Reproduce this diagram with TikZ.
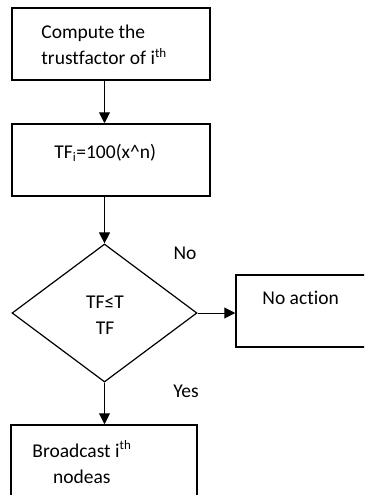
\documentclass[tikz,border=0pt]{standalone}
\usepackage{fontspec}
\setmainfont[Ligatures={NoCommon}]{Carlito}
\usetikzlibrary{shapes.geometric,arrows.meta}
\newcommand{\smallsup}[1]{\textsuperscript{\fontsize{13}{13}\selectfont #1}}

\begin{document}
\begin{tikzpicture}[x=1pt,y=-1pt,
	box/.style={draw, line width=1.5pt, rectangle, inner sep=0},
	txt/.style={inner sep=0, anchor=north west},
	arr/.style={line width=1pt, -{Triangle[width=11pt,length=11pt]}},
	every node/.style={font=\fontsize{19.5}{26}\selectfont}]
		\clip(0,0)rectangle(364,495);
		% boxes
		\node[box, minimum width=198pt, minimum height=72pt](comp) at (111,44) {};
		\node[box, minimum width=198pt, minimum height=72pt](tf) at (111,160) {};
		\node[draw, line width=1.2pt, diamond, inner sep=0, minimum width=185pt, minimum height=138pt](dec) at (104.5,313) {};
		\node[box, minimum width=150pt, minimum height=72pt](noact) at (311,311) {};
		\node[box, minimum width=186pt, minimum height=95pt](bcast) at (104,472.5) {};
		% texts
		\node[txt, align=left](comptxt) at ([shift={(30,18)}]comp.north west) {Compute the\\ trustfactor of i\smallsup{th}};
		\node[txt](tftxt) at ([shift={(43,21)}]tf.north west) {TF\textsubscript{\fontsize{13}{13}\selectfont i}=100(x\textasciicircum n)};
		\node[inner sep=0, align=center](dectxt) at (105,315) {TF≤T\\TF};
		\node[txt](natxt) at ([shift={(27,17)}]noact.north west) {No action};
		\node[txt, align=center](bctxt) at ([shift={(22,16)}]bcast.north west) {Broadcast i\smallsup{th}\\nodeas};
		\node(no) at (185,253) {No};
		\node(yes) at (186,391) {Yes};
		% arrows
		\draw[arr](comp.south -| dec.north)--(tf.north -| dec.north);
		\draw[arr](tf.south -| dec.north)--(dec.north);
		\draw[arr](dec.east)--(dec.east -| noact.west);
		\draw[arr](dec.south)--(bcast.north -| dec.south);
		\end{tikzpicture}
\end{document}
